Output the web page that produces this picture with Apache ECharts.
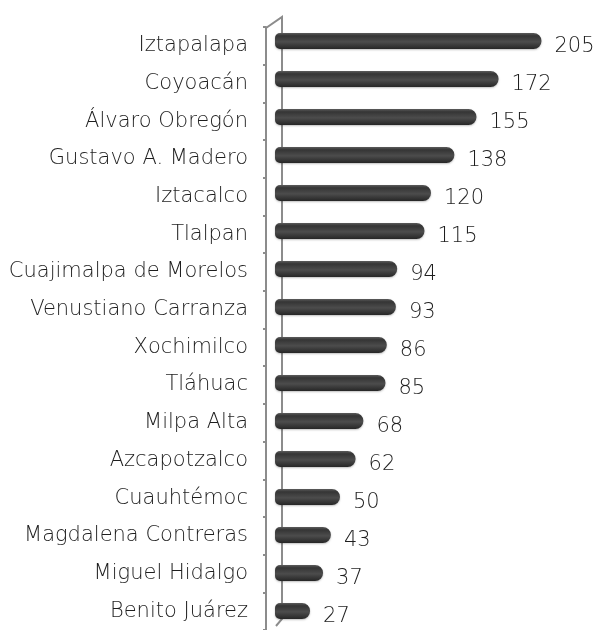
<!DOCTYPE html>
<html>
<head>
<meta charset="utf-8">
<script src="https://cdn.jsdelivr.net/npm/echarts@6/dist/echarts.min.js"></script>
<style>
  html, body { margin: 0; padding: 0; background: #fff; }
  #chart { width: 600px; height: 630px; }
</style>
</head>
<body>
<div id="chart"></div>
<script>
// datos por alcaldía, de arriba hacia abajo
var alcaldias = ['Iztapalapa', 'Coyoacán', 'Álvaro Obregón', 'Gustavo A. Madero', 'Iztacalco', 'Tlalpan',
  'Cuajimalpa de Morelos', 'Venustiano Carranza', 'Xochimilco', 'Tláhuac', 'Milpa Alta', 'Azcapotzalco',
  'Cuauhtémoc', 'Magdalena Contreras', 'Miguel Hidalgo', 'Benito Juárez'];
var valores = [205, 172, 155, 138, 120, 115, 94, 93, 86, 85, 68, 62, 50, 43, 37, 27];

var fuente = 'DejaVu Sans';

var myChart = echarts.init(document.getElementById('chart'));

var option = {
  backgroundColor: '#fff',
  animation: false,
  textStyle: { fontFamily: fuente },
  grid: [
    { left: 266, top: 27, height: 608, width: 330 }, // etiquetas y ticks
    { left: 275, top: 22, height: 608, width: 328 }  // barras
  ],
  xAxis: [
    { gridIndex: 0, type: 'value', show: false, min: 0, max: 250 },
    { gridIndex: 1, type: 'value', show: false, min: 0, max: 250 }
  ],
  yAxis: [
    {
      gridIndex: 0,
      type: 'category',
      inverse: true,
      data: alcaldias,
      axisLine: { show: true, lineStyle: { color: '#8c8c8c', width: 2 } },
      axisTick: { show: true, length: 3, lineStyle: { color: '#8c8c8c', width: 2 } },
      axisLabel: { margin: 18, fontSize: 21, color: '#1e1e1e', fontWeight: 200, fontFamily: fuente, offset: [0, 3] },
      splitLine: { show: false }
    },
    {
      gridIndex: 1,
      type: 'category',
      inverse: true,
      data: alcaldias,
      show: false
    }
  ],
  // pared 3D del eje
  graphic: [
    {
      type: 'polyline',
      shape: { points: [[266, 28], [282, 17], [282, 619], [276, 626]] },
      style: { stroke: '#8c8c8c', lineWidth: 2, fill: null },
      z: 1
    }
  ],
  series: [
    {
      type: 'bar',
      xAxisIndex: 1,
      yAxisIndex: 1,
      barWidth: 16,
      z: 3,
      data: valores,
      itemStyle: {
        color: new echarts.graphic.LinearGradient(0, 0, 0, 1, [
          { offset: 0, color: '#5c5c5c' },
          { offset: 0.18, color: '#353535' },
          { offset: 0.55, color: '#4c4c4c' },
          { offset: 1, color: '#262626' }
        ]),
        borderRadius: [5, 8, 8, 5],
        shadowColor: 'rgba(0,0,0,0.25)',
        shadowBlur: 2,
        shadowOffsetY: 1
      },
      label: {
        show: true,
        position: 'right',
        distance: 13,
        offset: [0, 6],
        fontSize: 21,
        color: '#1e1e1e',
        fontWeight: 200,
        fontFamily: fuente
      }
    }
  ]
};

myChart.setOption(option);
</script>
</body>
</html>
